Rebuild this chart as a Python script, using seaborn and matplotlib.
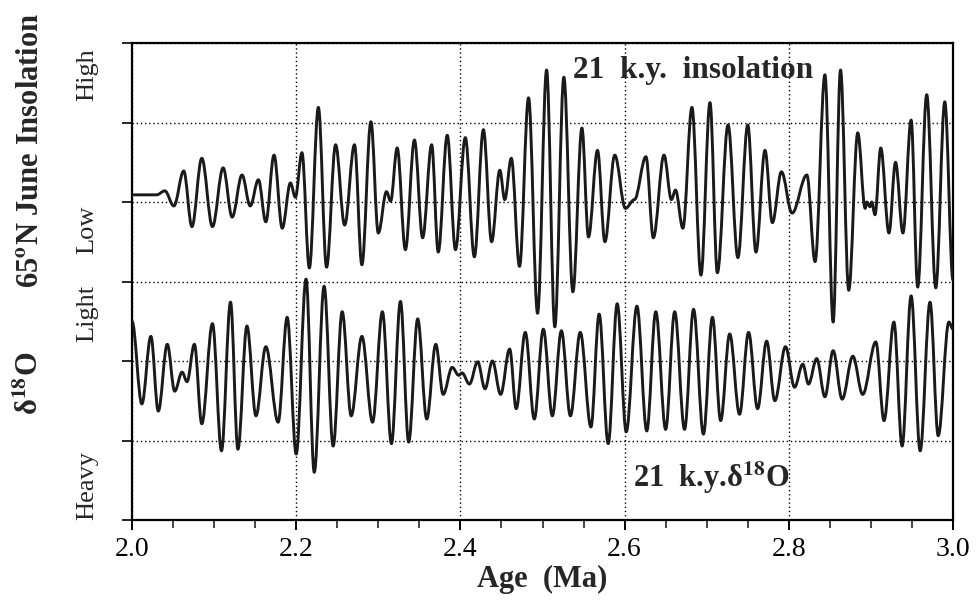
import numpy as np
import pandas as pd
import seaborn as sns
import matplotlib
matplotlib.use("Agg")
import matplotlib.pyplot as plt
from matplotlib.path import Path
from matplotlib.patches import PathPatch
from matplotlib.ticker import MultipleLocator

# ---- data: 21 k.y. filtered 65N June insolation (extremes)
ins_age = [2.000, 2.030, 2.040, 2.051, 2.063, 2.073, 2.085, 2.098, 2.111, 2.122,
           2.134, 2.144, 2.154, 2.163, 2.173, 2.183, 2.193, 2.199, 2.207, 2.216,
           2.227, 2.237, 2.248, 2.259, 2.271, 2.280, 2.291, 2.300, 2.310, 2.315,
           2.323, 2.333, 2.344, 2.354, 2.365, 2.373, 2.384, 2.394, 2.406, 2.417,
           2.428, 2.438, 2.448, 2.454, 2.462, 2.472, 2.483, 2.494, 2.505, 2.515,
           2.526, 2.537, 2.548, 2.556, 2.567, 2.576, 2.588, 2.601, 2.612, 2.626,
           2.635, 2.648, 2.657, 2.662, 2.671, 2.682, 2.693, 2.704, 2.713, 2.726,
           2.738, 2.750, 2.760, 2.771, 2.780, 2.791, 2.804, 2.822, 2.832, 2.844,
           2.854, 2.863, 2.873, 2.884, 2.893, 2.895, 2.899, 2.901, 2.905, 2.912,
           2.922, 2.930, 2.939, 2.949, 2.957, 2.968, 2.979, 2.990, 3.000]
ins_val = [0.09, 0.09, 0.14, -0.05, 0.39, -0.31, 0.55, -0.31, 0.43, -0.19,
           0.34, -0.05, 0.28, -0.25, 0.59, -0.33, 0.24, 0.06, 0.62, -0.83,
           1.19, -0.82, 0.72, -0.29, 0.72, -0.79, 1.01, -0.39, 0.13, 0.01,
           0.68, -0.60, 0.78, -0.45, 0.72, -0.63, 0.84, -0.60, 0.81, -0.69,
           0.91, -0.50, 0.40, 0.03, 0.55, -0.81, 1.31, -1.40, 1.66, -1.57,
           1.57, -1.13, 0.93, -0.44, 0.65, -0.50, 0.59, -0.08, 0.03, 0.57,
           -0.45, 0.59, 0.03, 0.15, -0.33, 1.19, -0.92, 1.25, -0.89, 0.97,
           -0.70, 0.97, -0.63, 0.65, -0.26, 0.38, -0.14, 0.34, -0.75, 1.60,
           -1.51, 1.66, -1.11, 0.87, -0.08, 0.00, -0.06, 0.00, -0.16, 0.68,
           -0.39, 0.50, -0.39, 1.03, -1.07, 1.35, -1.08, 1.26, -0.98]

# ---- data: 21 k.y. filtered d18O
d18_age = [2.000, 2.012, 2.023, 2.032, 2.043, 2.052, 2.061, 2.067, 2.076, 2.085,
           2.098, 2.109, 2.120, 2.129, 2.140, 2.151, 2.163, 2.178, 2.189, 2.200,
           2.212, 2.222, 2.234, 2.245, 2.256, 2.267, 2.280, 2.293, 2.305, 2.316,
           2.327, 2.337, 2.348, 2.359, 2.370, 2.379, 2.390, 2.398, 2.402, 2.411,
           2.421, 2.430, 2.439, 2.449, 2.460, 2.468, 2.479, 2.490, 2.501, 2.512,
           2.523, 2.534, 2.546, 2.559, 2.569, 2.580, 2.591, 2.602, 2.615, 2.627,
           2.638, 2.650, 2.661, 2.673, 2.684, 2.696, 2.707, 2.717, 2.728, 2.740,
           2.751, 2.762, 2.773, 2.783, 2.796, 2.807, 2.817, 2.824, 2.834, 2.844,
           2.854, 2.865, 2.878, 2.890, 2.906, 2.916, 2.928, 2.938, 2.949, 2.960,
           2.972, 2.982, 2.995, 3.000]
d18_val = [0.50, -0.54, 0.31, -0.63, 0.21, -0.38, -0.14, -0.26, 0.21, -0.79,
           0.47, -1.13, 0.74, -1.11, 0.44, -0.69, 0.18, -0.77, 0.55, -1.17,
           1.03, -1.40, 0.94, -1.07, 0.62, -0.69, 0.31, -0.77, 0.62, -1.04,
           0.75, -1.02, 0.53, -0.73, 0.21, -0.42, -0.08, -0.18, -0.15, -0.29,
           -0.01, -0.35, 0.00, -0.42, 0.15, -0.60, 0.36, -0.73, 0.40, -0.69,
           0.38, -0.69, 0.36, -0.83, 0.59, -1.04, 0.72, -0.89, 0.69, -0.88,
           0.62, -0.86, 0.62, -0.86, 0.65, -0.92, 0.55, -0.75, 0.34, -0.67,
           0.36, -0.60, 0.25, -0.50, 0.18, -0.33, -0.04, -0.29, 0.03, -0.45,
           0.13, -0.48, 0.06, -0.42, 0.24, -0.75, 0.49, -1.07, 0.82, -1.13,
           0.74, -0.94, 0.49, 0.40]

x_major = [2.0, 2.2, 2.4, 2.6, 2.8, 3.0]
x_labels = ["2.0", "2.2", "2.4", "2.6", "2.8", "3.0"]
ins_levels = ["High", "Low"]
d18_levels = ["Light", "Heavy"]

# ---- style
sns.set_style("ticks")
plt.rcParams["font.family"] = ["Liberation Serif", "DejaVu Serif"]
plt.rcParams["mathtext.fontset"] = "stix"

fig = plt.figure(figsize=(9.76, 6.05), dpi=100)
ax = fig.add_axes([132 / 976, 1 - 520 / 605, 821 / 976, 477 / 605])

INS_OFFSET, D18_OFFSET = 4.0, 2.0
ink = "#1a1a1a"

df_ins = pd.DataFrame({"age": ins_age, "val": np.array(ins_val) + INS_OFFSET})
df_d18 = pd.DataFrame({"age": d18_age, "val": np.array(d18_val) + D18_OFFSET})

sns.lineplot(data=df_ins, x="age", y="val", ax=ax, color=ink, lw=2.1, sort=False)
sns.lineplot(data=df_d18, x="age", y="val", ax=ax, color=ink, lw=2.1, sort=False)


def smooth(ax, line, k=0.36):
    """Re-render a seaborn line as a smooth curve through its own points
    (horizontal tangents at each extreme)."""
    xy = line.get_xydata()
    verts = [tuple(xy[0])]
    codes = [Path.MOVETO]
    for (x0, y0), (x1, y1) in zip(xy[:-1], xy[1:]):
        dx = x1 - x0
        verts += [(x0 + k * dx, y0), (x1 - k * dx, y1), (x1, y1)]
        codes += [Path.CURVE4] * 3
    patch = PathPatch(Path(verts, codes), fill=False, lw=line.get_linewidth(),
                      edgecolor=line.get_color(), capstyle="round",
                      joinstyle="round", zorder=3)
    ax.add_patch(patch)
    line.remove()


for ln in list(ax.get_lines()):
    smooth(ax, ln)

ax.set_xlim(2.0, 3.0)
ax.set_ylim(0, 6)
ax.xaxis.set_minor_locator(MultipleLocator(0.05))
ax.set_xticks(x_major)
ax.set_xticklabels(x_labels)
ax.yaxis.set_major_locator(MultipleLocator(1))
ax.set_yticklabels([])
ax.set_ylabel("")

ax.grid(True, which="major", color="black", linestyle=(0, (1, 2)), lw=1.0)
for s in ax.spines.values():
    s.set_visible(True)
    s.set_color("black")
    s.set_linewidth(1.6)

ax.tick_params(axis="x", which="major", direction="out", length=7, width=1.4,
               labelsize=20, pad=5, colors="black")
ax.tick_params(axis="x", which="minor", direction="out", length=6, width=1.2)
ax.tick_params(axis="y", which="major", direction="out", length=7, width=1.4)

ax.set_xlabel("Age  (Ma)", fontsize=22, fontweight="bold", labelpad=2)

# level labels
lvl_kw = dict(transform=ax.get_yaxis_transform(), rotation=90, ha="center",
              va="center", fontsize=19)
ax.text(-0.054, 5.6, ins_levels[0], **lvl_kw)
ax.text(-0.054, 3.65, ins_levels[1], **lvl_kw)
ax.text(-0.054, 2.6, d18_levels[0], **lvl_kw)
ax.text(-0.054, 0.44, d18_levels[1], **lvl_kw)

# outer labels
out_kw = dict(transform=ax.get_yaxis_transform(), rotation=90, ha="center",
              va="center", fontsize=22, fontweight="bold")
ax.text(-0.124, 4.65, r"65$^{\mathbf{o}}$N June Insolation", **out_kw)
ax.text(-0.124, 1.72, r"δ$^{\mathbf{18}}$O", **out_kw)

# curve titles
ax.text(2.537, 5.66, "21  k.y.  insolation", fontsize=22.5, fontweight="bold",
        ha="left", va="center")
ax.text(2.610, 0.53, r"21  k.y.δ$^{\mathbf{18}}$O", fontsize=22,
        fontweight="bold", ha="left", va="center")

fig.savefig("out.png", dpi=100, facecolor="white")
